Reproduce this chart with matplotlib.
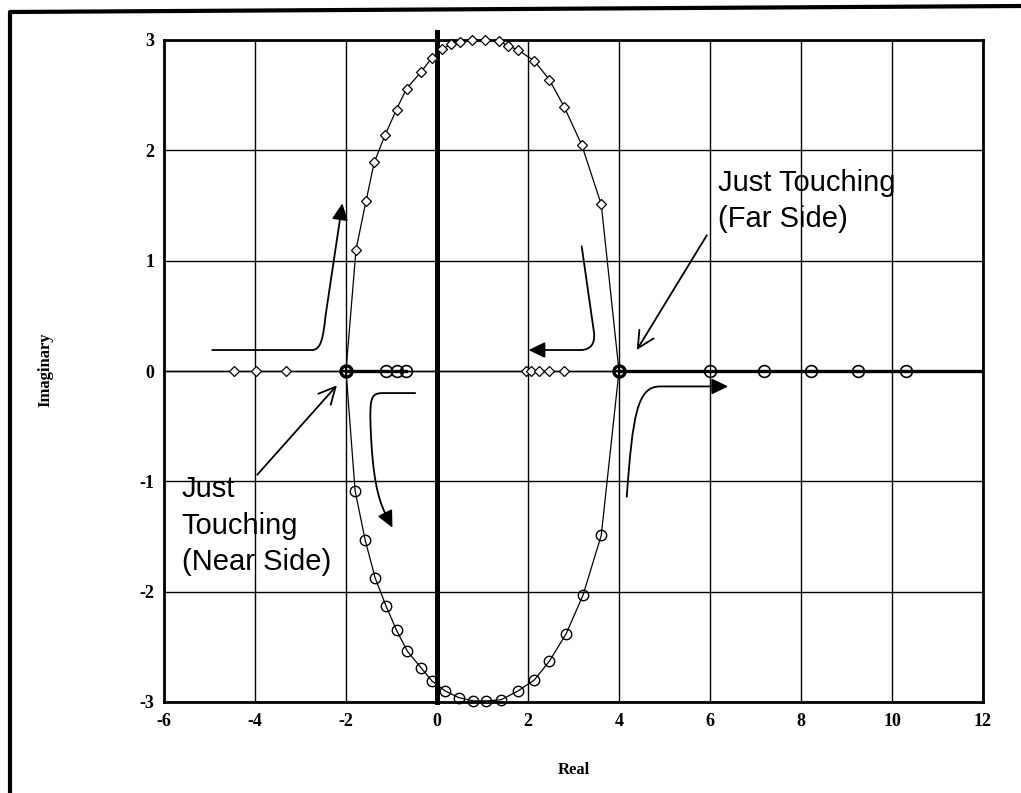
import matplotlib
matplotlib.use("Agg")
import matplotlib.pyplot as plt
from matplotlib.path import Path
from matplotlib.patches import FancyArrowPatch
from matplotlib.lines import Line2D

# ---------------- data ----------------
upper_x = [-2.0, -1.78, -1.56, -1.38, -1.14, -0.89, -0.67, -0.35, -0.11, 0.12, 0.30,
           0.50, 0.77, 1.06, 1.37, 1.55, 1.78, 2.14, 2.47, 2.80, 3.18, 3.61, 4.0]
upper_y = [0.0, 1.10, 1.54, 1.89, 2.14, 2.37, 2.56, 2.71, 2.84, 2.92, 2.96,
           2.98, 3.00, 3.00, 2.99, 2.95, 2.91, 2.81, 2.64, 2.39, 2.05, 1.51, 0.0]

lower_x = [-2.0, -1.80, -1.58, -1.36, -1.12, -0.89, -0.65, -0.35, -0.11, 0.18, 0.48,
           0.80, 1.08, 1.41, 1.78, 2.14, 2.47, 2.84, 3.21, 3.61, 4.0]
lower_y = [0.0, -1.085, -1.53, -1.875, -2.13, -2.35, -2.54, -2.69, -2.81, -2.90, -2.96,
           -2.99, -2.99, -2.98, -2.90, -2.80, -2.63, -2.38, -2.03, -1.49, 0.0]

axis_diamonds_x = [-4.46, -3.97, -3.32, 1.96, 2.07, 2.25, 2.47, 2.79]
axis_circles_x = [-1.12, -0.87, -0.68, 6.0, 7.19, 8.23, 9.26, 10.31]
touch_x = [-2.0, 4.0]

thick_segments = [(-2.0, -0.68), (4.0, 12.0)]

xticks = [-6, -4, -2, 0, 2, 4, 6, 8, 10, 12]
xtick_labels = ['-6', '-4', '-2', '0', '2', '4', '6', '8', '10', '12']
yticks = [-3, -2, -1, 0, 1, 2, 3]
ytick_labels = ['-3', '-2', '-1', '0', '1', '2', '3']

# ---------------- figure ----------------
W, H = 1021, 793
fig = plt.figure(figsize=(W / 100, H / 100), dpi=100)
ax = fig.add_axes([164 / W, 1 - 702 / H, 819 / W, 662 / H])
ax.set_xlim(-6, 12)
ax.set_ylim(-3, 3)

serif = 'Liberation Serif'
sans = 'Liberation Sans'

ax.set_xticks(xticks)
ax.set_xticklabels(xtick_labels, fontfamily=serif, fontweight='bold', fontsize=13)
ax.set_yticks(yticks)
ax.set_yticklabels(ytick_labels, fontfamily=serif, fontweight='bold', fontsize=13)
ax.tick_params(axis='both', length=0)
ax.tick_params(axis='x', pad=8)
ax.tick_params(axis='y', pad=7)
ax.grid(True, color='black', lw=1.0)
ax.set_axisbelow(True)
for s in ax.spines.values():
    s.set_linewidth(2.0)
    s.set_color('black')

# real axis thin line and thick segments
ax.plot([-6, 12], [0, 0], color='black', lw=1.0)
for a, b in thick_segments:
    ax.plot([a, b], [0, 0], color='black', lw=2.4)

# thick imaginary axis
ax.plot([0, 0], [-3, 3.07], color='black', lw=3.6, clip_on=False, zorder=3)

# locus branches
ax.plot(upper_x, upper_y, color='black', lw=0.9, zorder=4)
ax.plot(lower_x, lower_y, color='black', lw=0.9, zorder=4)
ax.plot(upper_x[1:-1], upper_y[1:-1], linestyle='none', marker='D', markersize=5.5,
        mfc='white', mec='black', mew=0.9, clip_on=False, zorder=5)
ax.plot(lower_x[1:-1], lower_y[1:-1], linestyle='none', marker='o', markersize=7.5,
        mfc='none', mec='black', mew=1.0, clip_on=False, zorder=5)

ax.plot(axis_diamonds_x, [0] * len(axis_diamonds_x), linestyle='none', marker='D',
        markersize=5.5, mfc='white', mec='black', mew=0.9, zorder=5)
ax.plot(axis_circles_x, [0] * len(axis_circles_x), linestyle='none', marker='o',
        markersize=8.5, mfc='none', mec='black', mew=1.2, zorder=5)
ax.plot(touch_x, [0, 0], linestyle='none', marker='o', markersize=8,
        mfc='none', mec='black', mew=2.4, zorder=6)
ax.plot(touch_x, [0, 0], linestyle='none', marker='+', markersize=8,
        mec='black', mew=1.5, zorder=6)

# ---------------- curved arrows ----------------
M, L, C = Path.MOVETO, Path.LINETO, Path.CURVE4
curves = [
    ([(-4.94, 0.19), (-2.75, 0.19), (-2.55, 0.19), (-2.50, 0.30), (-2.45, 0.50), (-2.08, 1.52)],
     [M, L, C, C, C, L]),
    ([(3.18, 1.13), (3.45, 0.35), (3.48, 0.25), (3.38, 0.19), (3.15, 0.19), (2.01, 0.19)],
     [M, L, C, C, C, L]),
    ([(-0.48, -0.20), (-1.20, -0.20), (-1.45, -0.20), (-1.48, -0.25), (-1.46, -0.50),
      (-1.42, -0.95), (-1.30, -1.15), (-1.15, -1.28), (-0.98, -1.42)],
     [M, L, C, C, C, C, C, C, L]),
    ([(4.17, -1.14), (4.30, -0.40), (4.40, -0.14), (4.90, -0.14), (6.40, -0.14)],
     [M, C, C, C, L]),
]
for verts, codes in curves:
    p = FancyArrowPatch(path=Path(verts, codes),
                        arrowstyle='-|>,head_length=0.5,head_width=0.24',
                        mutation_scale=20, color='black', lw=1.3, zorder=7)
    ax.add_patch(p)

# straight arrows with open heads
straight = [((5.93, 1.23), (4.39, 0.19)), ((-3.95, -0.94), (-2.20, -0.13))]
for start, tip in straight:
    ax.annotate('', xy=tip, xytext=start,
                arrowprops=dict(arrowstyle='->,head_length=0.6,head_width=0.3',
                                mutation_scale=20, lw=1.3, color='black',
                                shrinkA=0, shrinkB=0), zorder=7)

# annotation texts
ax.text(6.18, 1.635, 'Just Touching', fontfamily=sans, fontsize=21, va='baseline', zorder=8)
ax.text(6.18, 1.305, '(Far Side)', fontfamily=sans, fontsize=21, va='baseline', zorder=8)
ax.text(-5.61, -1.145, 'Just', fontfamily=sans, fontsize=21, va='baseline', zorder=8)
ax.text(-5.61, -1.48, 'Touching', fontfamily=sans, fontsize=21, va='baseline', zorder=8)
ax.text(-5.61, -1.80, '(Near Side)', fontfamily=sans, fontsize=21, va='baseline', zorder=8)

# axis labels
fig.text(574 / W, 1 - 770 / H, 'Real', fontfamily=serif, fontweight='bold', fontsize=12,
         ha='center', va='center')
fig.text(45 / W, 1 - 370 / H, 'Imaginary', fontfamily=serif, fontweight='bold', fontsize=12,
         ha='center', va='center', rotation=90)

# outer frame
fig.add_artist(Line2D([10 / W, 10 / W, 1.0], [0.0, 1 - 12 / H, 1 - 6 / H],
                      transform=fig.transFigure, color='black', lw=3.0))

fig.savefig('out.png', dpi=100)
